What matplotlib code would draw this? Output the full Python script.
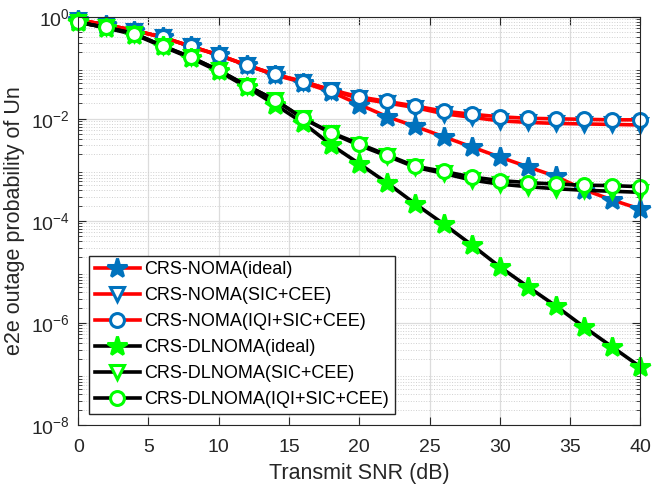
import numpy as np
import matplotlib
matplotlib.use("Agg")
import matplotlib.pyplot as plt
from matplotlib.ticker import LogLocator, NullFormatter, FixedLocator

plt.rcParams['font.family'] = ['Liberation Sans', 'DejaVu Sans']
plt.rcParams['mathtext.fontset'] = 'custom'
plt.rcParams['mathtext.rm'] = 'Liberation Sans'
plt.rcParams['mathtext.default'] = 'regular'

snr = np.arange(0, 41, 2)

# log10 of outage probability
noma_ideal = [-0.06, -0.16, -0.27, -0.40, -0.58, -0.75, -0.95, -1.14, -1.29, -1.47, -1.72,
              -1.96, -2.15, -2.35, -2.55, -2.75, -2.94, -3.13, -3.39, -3.59, -3.77]
noma_sic = [-0.06, -0.16, -0.27, -0.40, -0.58, -0.75, -0.95, -1.13, -1.27, -1.44, -1.60,
            -1.69, -1.78, -1.90, -1.97, -2.04, -2.07, -2.09, -2.10, -2.11, -2.12]
noma_iqi = [-0.06, -0.16, -0.27, -0.40, -0.58, -0.75, -0.95, -1.13, -1.27, -1.43, -1.57,
            -1.66, -1.75, -1.85, -1.91, -1.96, -1.99, -2.00, -2.01, -2.02, -2.02]
dl_ideal = [-0.10, -0.22, -0.35, -0.58, -0.81, -1.07, -1.38, -1.72, -2.08, -2.51, -2.88,
            -3.26, -3.67, -4.06, -4.47, -4.90, -5.29, -5.67, -6.08, -6.47, -6.86]
dl_sic = [-0.11, -0.21, -0.33, -0.57, -0.79, -1.05, -1.35, -1.63, -1.99, -2.28, -2.52,
          -2.73, -2.95, -3.07, -3.20, -3.28, -3.33, -3.37, -3.40, -3.42, -3.44]
dl_iqi = [-0.11, -0.21, -0.33, -0.57, -0.79, -1.05, -1.35, -1.63, -1.99, -2.27, -2.49,
          -2.71, -2.93, -3.03, -3.14, -3.21, -3.25, -3.28, -3.30, -3.31, -3.33]

labels = ['CRS-NOMA(ideal)', 'CRS-NOMA(SIC+CEE)', 'CRS-NOMA(IQI+SIC+CEE)',
          'CRS-DLNOMA(ideal)', 'CRS-DLNOMA(SIC+CEE)', 'CRS-DLNOMA(IQI+SIC+CEE)']

blue = (0, 0.447, 0.741)
green = (0, 1, 0)

fig = plt.figure(figsize=(6.52, 4.93), dpi=100)
ax = fig.add_axes([0.12, 0.138, 0.862, 0.828])

series = [noma_ideal, noma_sic, noma_iqi, dl_ideal, dl_sic, dl_iqi]
line_cols = ['red'] * 3 + ['black'] * 3
mk_cols = [blue] * 3 + [green] * 3
markers = ['*', 'v', 'o'] * 2

for vals, lc, mc, m, lab in zip(series, line_cols, mk_cols, markers, labels):
    if m == '*':
        ms, mfc = 15, mc
    else:
        ms, mfc = 10, 'white'
    ax.semilogy(snr, 10 ** np.array(vals), color=lc, lw=2.6, marker=m, ms=ms,
                mec=mc, mfc=mfc, mew=2.2, label=lab, clip_on=False)

ax.set_xlim(0, 40)
ax.set_ylim(1e-8, 1)
ax.set_xticks(np.arange(0, 41, 5))
ax.yaxis.set_major_locator(FixedLocator([1e-8, 1e-6, 1e-4, 1e-2, 1]))
ax.set_yticklabels([r'$10^{-8}$', r'$10^{-6}$', r'$10^{-4}$', r'$10^{-2}$', r'$10^{0}$'])
ax.yaxis.set_minor_locator(LogLocator(base=10, subs=np.arange(2, 10), numticks=20))
ax.yaxis.set_minor_formatter(NullFormatter())

ax.grid(True, which='major', color='#dcdcdc', lw=0.9)
ax.grid(True, which='minor', axis='y', color='#d0d0d0', lw=0.7, ls=':')
ax.set_axisbelow(True)

ax.tick_params(which='both', direction='in', top=True, right=True,
               labelsize=14, colors='#262626')
ax.tick_params(which='major', length=6)
ax.tick_params(which='minor', length=3)
ax.tick_params(axis='x', pad=10)
ax.tick_params(axis='y', pad=6)
for s in ax.spines.values():
    s.set_color('#262626')

ax.set_xlabel('Transmit SNR (dB)', fontsize=15.5, color='#262626', labelpad=5)
ax.set_ylabel('e2e outage probability of Un', fontsize=15.5, color='#262626', labelpad=4)

leg = ax.legend(loc='lower left', bbox_to_anchor=(0.02, 0.028), fontsize=13,
                handlelength=2.5, borderpad=0.3, labelspacing=0.5,
                handletextpad=0.25, fancybox=False, framealpha=1, edgecolor='#262626',
                borderaxespad=0)
leg.get_frame().set_linewidth(1.0)

fig.savefig('out.png', dpi=100)
